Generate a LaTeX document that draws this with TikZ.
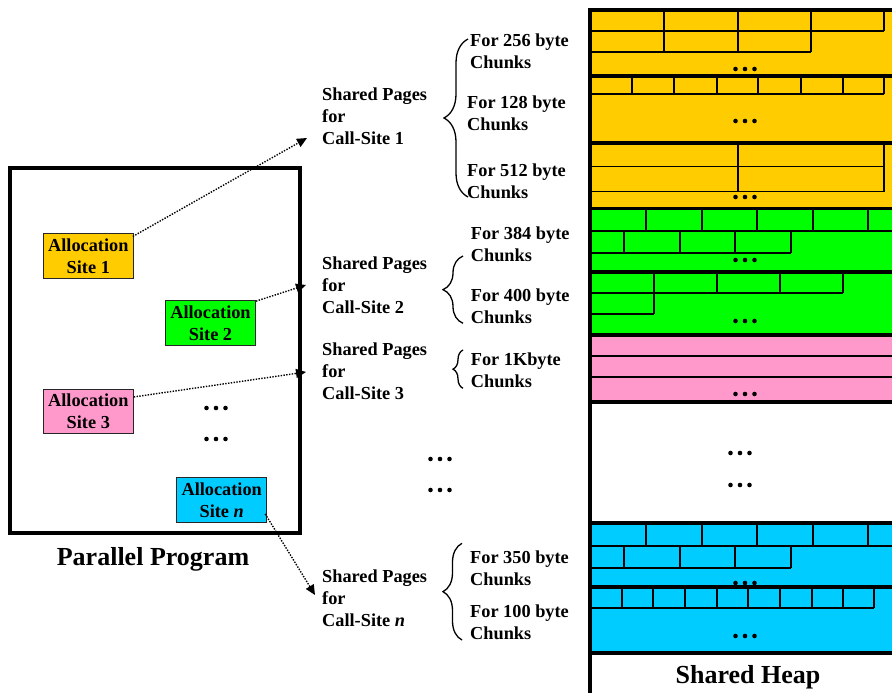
\documentclass[tikz,border=0pt]{standalone}
\usepackage{fontspec}
\setmainfont{Liberation Serif}
\usetikzlibrary{calc,arrows.meta,decorations.pathreplacing}

\definecolor{heaporange}{HTML}{FFCC00}
\definecolor{heapgreen}{HTML}{00FF00}
\definecolor{heappink}{HTML}{FF99CC}
\definecolor{heapcyan}{HTML}{00CCFF}
\newcommand{\lblfont}{\fontsize{18.3}{22}\selectfont\bfseries}
\newcommand{\bigfont}{\fontsize{26}{30}\selectfont\bfseries}
% three dots in a row, centred at (#1,#2)
\newcommand{\dotrow}[2]{\foreach \dx in {-9.5,0,9.5} \fill (#1+\dx,#2) circle (2.3);}

\begin{document}
\begin{tikzpicture}[x=1pt,y=-1pt,
  lbl/.style={font=\lblfont, align=left, inner sep=0pt, anchor=west},
  site/.style={draw=black!85, line width=1pt, font=\lblfont, align=center,
    inner sep=0pt, minimum width=90, minimum height=44.5},
  cell/.style={line width=1.3pt},
  blockline/.style={line width=3.2pt},
  link/.style={line width=1.4pt, dash pattern=on 1.4pt off 1.4pt,
    -{Triangle[length=10pt,width=9pt]}},
  curly/.style={line width=1.3pt, decorate}]
\clip (0,0) rectangle (892,693);

% Parallel program
\draw[line width=4pt] (10,168) rectangle (300,533);
\node[site, fill=heaporange] (site1) at (88.3,256.2) {Allocation\\Site 1};
\node[site, fill=heapgreen] (site2) at (210.5,322.9) {Allocation\\Site 2};
\node[site, fill=heappink] (site3) at (88.3,411.7) {Allocation\\Site 3};
\node[site, fill=heapcyan] (siten) at (221.7,500.2) {Allocation\\Site \textit{n}};
\dotrow{216}{408}
\dotrow{216}{439}
\node[font=\bigfont] (prog) at (153,559) {Parallel Program};

% Shared pages labels
\node[lbl] (sp1) at (322,116) {Shared Pages\\for\\Call-Site 1};
\node[lbl] (sp2) at (322,285) {Shared Pages\\for\\Call-Site 2};
\node[lbl] (sp3) at (322,371) {Shared Pages\\for\\Call-Site 3};
\node[lbl] (spn) at (322,598) {Shared Pages\\for\\Call-Site \textit{n}};
\dotrow{440}{459}
\dotrow{440}{490}

% Chunk labels
\node[lbl] (c256) at (470,51) {For 256 byte\\Chunks};
\node[lbl] (c128) at (467,113) {For 128 byte\\Chunks};
\node[lbl] (c512) at (467,181.7) {For 512 byte\\Chunks};
\node[lbl] (c384) at (470.7,244) {For 384 byte\\Chunks};
\node[lbl] (c400) at (470.7,306.7) {For 400 byte\\Chunks};
\node[lbl] (c1k) at (470.7,370.5) {For 1Kbyte\\Chunks};
\node[lbl] (c350) at (470,568.7) {For 350 byte\\Chunks};
\node[lbl] (c100) at (470,622.5) {For 100 byte\\Chunks};

% Braces
\draw[curly, decoration={brace,amplitude=24pt}] (468,197) -- (468,39);
\draw[curly, decoration={brace,amplitude=20pt}] (463,323.3) -- (463,256);
\draw[curly, decoration={brace,amplitude=10pt}] (463,388.3) -- (463,350);
\draw[curly, decoration={brace,amplitude=19pt}] (462,640) -- (462,543.3);

% Links from sites to pages
\draw[link] ($(site1.north east)+(-1,3)$) -- ($(sp1.west)+(-15,22)$);
\draw[link] ($(site2.north east)+(0,1)$) -- ($(sp2.west)+(-16,0)$);
\draw[link] ($(site3.north east)+(0,8)$) -- ($(sp3.west)+(-16,1)$);
\draw[link] ($(siten.south east)+(-2,-9)$) -- ($(spn.west)+(-7,-3)$);

% Shared heap
\fill[heaporange] (590,10) rectangle (900,208.5);
\fill[heapgreen] (590,208.5) rectangle (900,335);
\fill[heappink] (590,335) rectangle (900,402);
\fill[heapcyan] (590,523) rectangle (900,653);
% 256 byte pages
\draw[cell] (590,31) -- (884,31) (590,52) -- (811,52);
\foreach \x in {664,738,811,884} \draw[cell] (\x,10) -- (\x,31);
\foreach \x in {664,738,811} \draw[cell] (\x,31) -- (\x,52);
\dotrow{745}{69}
% 128 byte pages
\draw[cell] (590,94) -- (884,94);
\foreach \x in {632,674,717,758,801,843,884} \draw[cell] (\x,76) -- (\x,94);
\dotrow{745}{121}
% 512 byte pages
\draw[cell] (590,166.7) -- (884,166.7) (590,191.7) -- (884,191.7);
\foreach \x in {738,884} \draw[cell] (\x,143) -- (\x,191.7);
\dotrow{745}{197}
% 384 byte pages
\draw[cell] (590,231) -- (900,231) (590,253) -- (791,253);
\foreach \x in {646,702,757,813,868} \draw[cell] (\x,209) -- (\x,231);
\foreach \x in {624,680,735,791} \draw[cell] (\x,231) -- (\x,253);
\dotrow{745}{260}
% 400 byte pages
\draw[cell] (590,293) -- (843,293) (590,314) -- (654,314);
\foreach \x in {654,717,780,843} \draw[cell] (\x,272) -- (\x,293);
\draw[cell] (654,293) -- (654,314);
\dotrow{745}{321}
% 1Kbyte pages
\draw[cell] (590,356) -- (900,356) (590,377) -- (900,377);
\dotrow{745}{394}
% unused part
\dotrow{740}{453}
\dotrow{740}{485}
% 350 byte pages
\draw[cell] (590,546) -- (900,546) (590,568) -- (791,568);
\foreach \x in {646,702,757,813,868} \draw[cell] (\x,523) -- (\x,546);
\foreach \x in {624,680,735,791} \draw[cell] (\x,546) -- (\x,568);
\dotrow{745}{583}
% 100 byte pages
\draw[cell] (590,608) -- (874,608);
\foreach \x in {622,653,685,717,748,780,812,843,874} \draw[cell] (\x,587) -- (\x,608);
\dotrow{745}{636}
% block borders
\foreach \y in {10,76,143,208.5,272,335,402,523,587,653} \draw[blockline] (588.4,\y) -- (900,\y);
\draw[blockline] (590,8.4) -- (590,693);
\node[font=\bigfont] (heap) at (748,677) {Shared Heap};
\end{tikzpicture}
\end{document}
